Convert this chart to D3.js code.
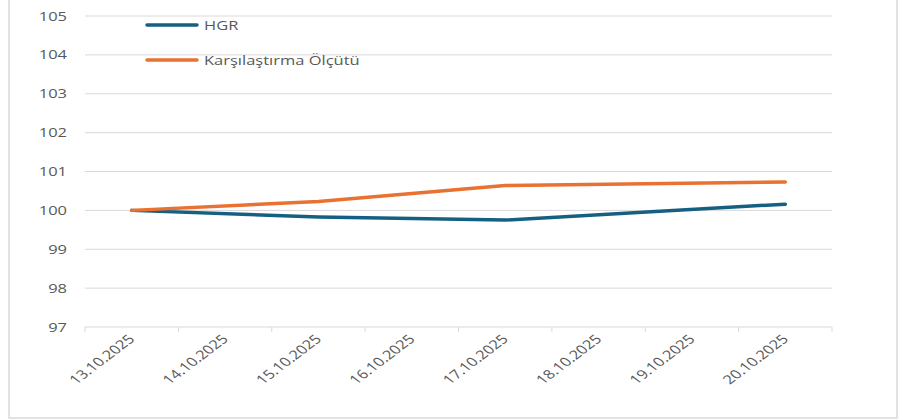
<!DOCTYPE html>
<html>
<head>
<meta charset="utf-8">
<script src="https://cdn.jsdelivr.net/npm/d3@7"></script>
<style>
  body { margin: 0; background: #fff; }
  text { font-family: "Open Sans", "Liberation Sans", sans-serif; }
</style>
</head>
<body>
<div id="chart"></div>
<script>
const dates = ['13.10.2025', '14.10.2025', '15.10.2025', '16.10.2025', '17.10.2025', '18.10.2025', '19.10.2025', '20.10.2025'];
// null = no value that day, Excel joins the neighbours
const hgr = [100, null, 99.83, null, 99.75, null, null, 100.16];
const benchmark = [100, null, 100.23, null, 100.64, null, null, 100.73];
const yTicks = [97, 98, 99, 100, 101, 102, 103, 104, 105];

const width = 903;
const height = 420;
const margin = { top: 16, right: 71, bottom: 93, left: 85 };
// the source picture is stretched sideways, so text is too
const stretch = 1.32;

const svg = d3.select('#chart').append('svg')
  .attr('width', width)
  .attr('height', height);

// outer frame of the chart area
svg.append('rect')
  .attr('x', 9).attr('y', -5)
  .attr('width', 888).attr('height', 423)
  .attr('fill', 'none')
  .attr('stroke', '#d9d9d9')
  .attr('stroke-width', 1.5);

const x = d3.scaleBand()
  .domain(dates)
  .range([margin.left, width - margin.right]);

const y = d3.scaleLinear()
  .domain([97, 105])
  .range([height - margin.bottom, margin.top]);

// gridlines
svg.append('g')
  .selectAll('line')
  .data(yTicks)
  .join('line')
    .attr('x1', margin.left)
    .attr('x2', width - margin.right)
    .attr('y1', d => y(d))
    .attr('y2', d => y(d))
    .attr('stroke', '#d9d9d9')
    .attr('stroke-width', 1);

// y labels
svg.append('g')
  .selectAll('text')
  .data(yTicks)
  .join('text')
    .attr('transform', d => `translate(67, ${y(d) + 4.5}) scale(${stretch}, 1)`)
    .attr('text-anchor', 'end')
    .attr('fill', '#595959')
    .attr('font-size', '12.5px')
    .text(d => d);

// x axis
const xAxis = svg.append('g')
  .attr('transform', `translate(0, ${y(97)})`);
xAxis.selectAll('line.tick')
  .data(d3.range(dates.length + 1))
  .join('line')
    .attr('class', 'tick')
    .attr('x1', i => margin.left + i * x.step())
    .attr('x2', i => margin.left + i * x.step())
    .attr('y1', 0)
    .attr('y2', 5)
    .attr('stroke', '#d9d9d9');
xAxis.selectAll('text')
  .data(dates)
  .join('text')
    .attr('transform', d => `translate(${x(d) + x.bandwidth() / 2 + 4}, 13) scale(${stretch}, 1) rotate(-45)`)
    .attr('text-anchor', 'end')
    .attr('fill', '#595959')
    .attr('font-size', '12.5px')
    .text(d => d);

const line = d3.line()
  .x(d => x(d.date) + x.bandwidth() / 2)
  .y(d => y(d.value));

const series = [
  { name: 'HGR', values: hgr, color: '#156082' },
  { name: 'Karşılaştırma Ölçütü', values: benchmark, color: '#E97132' }
];

series.forEach(s => {
  const pts = dates.map((d, i) => ({ date: d, value: s.values[i] }))
    .filter(p => p.value != null);
  svg.append('path')
    .datum(pts)
    .attr('fill', 'none')
    .attr('stroke', s.color)
    .attr('stroke-width', 3.5)
    .attr('stroke-linejoin', 'round')
    .attr('stroke-linecap', 'round')
    .attr('d', line);
});

// legend
const legend = svg.append('g')
  .selectAll('g')
  .data(series)
  .join('g')
    .attr('transform', (d, i) => `translate(147, ${25 + i * 35})`);
legend.append('line')
  .attr('x1', 0).attr('x2', 50)
  .attr('stroke', d => d.color)
  .attr('stroke-width', 3.5)
  .attr('stroke-linecap', 'round');
legend.append('text')
  .attr('transform', `translate(57, 4.5) scale(${stretch}, 1)`)
  .attr('fill', '#595959')
  .attr('font-size', '12.5px')
  .text(d => d.name);
</script>
</body>
</html>
